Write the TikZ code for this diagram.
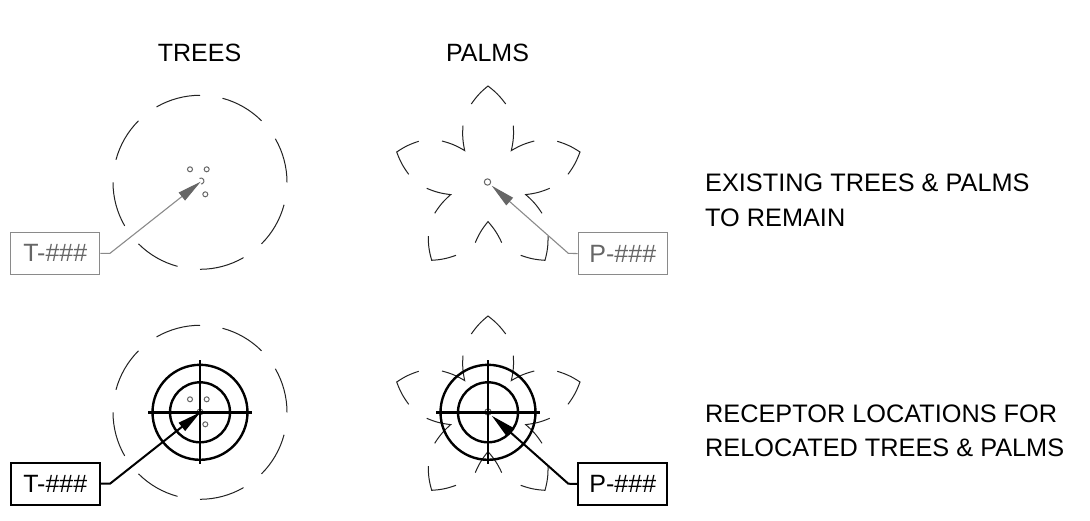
\documentclass[tikz,border=0pt]{standalone}
\usepackage{fontspec}
\setmainfont{Liberation Sans}
\usetikzlibrary{arrows.meta}
\definecolor{greytext}{HTML}{666666}
\definecolor{greybox}{HTML}{8A8A8A}
\definecolor{plantline}{HTML}{222222}
\tikzset{
  x=1pt,y=-1pt,
  label text/.style={font=\fontsize{25.3}{30}\selectfont,inner sep=0pt,anchor=base west,text=black},
  head text/.style={font=\fontsize{25}{30}\selectfont,inner sep=0pt,anchor=base,text=black},
  plant/.style={line width=1pt,draw=plantline,line join=miter},
  curl/.style={bend left=8},
  tag old/.style={draw=greybox,line width=1.2pt,minimum width=89pt,minimum height=42pt,inner sep=0pt,text=greytext,font=\fontsize{25}{30}\selectfont},
  tag new/.style={draw=black,line width=2pt,minimum width=89pt,minimum height=42pt,inner sep=0pt,text=black,font=\fontsize{25}{30}\selectfont},
  leader old/.style={draw=greybox,line width=1.1pt,-{Triangle[length=24pt,width=10pt,color=greytext]}},
  leader new/.style={draw=black,line width=2pt,-{Triangle[length=24pt,width=10pt,color=black]}},
  receptor/.style={draw=black,line width=2.4pt},
  hub/.style={draw=#1,line width=1pt},
  seed/.style={draw=#1,line width=1pt},
}
\newcommand{\canopy}[2]{%
  \foreach \a in {90,135,...,405}{
    \draw[plant] (#1,#2) ++(-\a:87) arc[start angle=-\a,delta angle=-30,radius=87];
  }%
}
\newcommand{\seeds}[3]{%
  \draw[seed=#3] (#1-10,#2-13) circle[radius=2.5];
  \draw[seed=#3] (#1+6.7,#2-13) circle[radius=2.5];
  \draw[seed=#3] (#1+5.3,#2+12) circle[radius=2.5];
}
\newcommand{\curlpart}[3]{\draw[plant] (#1) to[curl] (#2) to[curl] (#3);}
\newcommand{\frond}[2]{%
  \begin{scope}[shift={(#1,#2)}]
    \curlpart{-16.7,-78.3}{0,-96.3}{17.7,-78.3}
    \curlpart{-46,-41.3}{-23.3,-31.7}{-25,-56.7}
    \curlpart{25.3,-56.7}{23.3,-31.7}{46.3,-41.3}
    \curlpart{69.3,-41}{92,-30.3}{80,-8}
    \curlpart{-79.3,-8}{-91.3,-30.3}{-69.3,-41}
    \curlpart{61.7,6}{37.7,12.3}{54,31}
    \curlpart{-53.3,31}{-37.3,12.3}{-61.3,6}
    \curlpart{60,53.7}{57,78}{32.7,73}
    \curlpart{-32,73}{-56.3,78}{-59.7,53.7}
    \curlpart{-12.7,60.3}{0,39.3}{13.7,60.3}
  \end{scope}%
}
\newcommand{\target}[2]{%
  \draw[receptor] (#1,#2) circle[radius=47.5];
  \draw[receptor] (#1,#2) circle[radius=30];
  \draw[receptor] (#1-52,#2) -- (#1+52,#2);
  \draw[receptor] (#1,#2-52) -- (#1,#2+52);
}
\begin{document}
\begin{tikzpicture}
\useasboundingbox (0,0) rectangle (1090,520);
\fill[white] (0,0) rectangle (1090,520);

\node[head text] (treesHead) at (199.5,61) {TREES};
\node[head text] (palmsHead) at (487.5,61) {PALMS};
\node[label text] (existA) at (705,191) {EXISTING TREES \& PALMS};
\node[label text] (existB) at (705,226) {TO REMAIN};
\node[label text] (recepA) at (705,422) {RECEPTOR LOCATIONS FOR};
\node[label text] (recepB) at (705,456) {RELOCATED TREES \& PALMS};

% top row
\canopy{200}{182.3}
\seeds{200}{182.3}{greytext}
\frond{488}{182.3}
\draw[hub=greytext] (201,181) ++(-120:3) arc[start angle=-120,delta angle=210,radius=3];
\draw[hub=greytext] (487.5,182) circle[radius=3.2];
\coordinate (tipTreeOld) at (200.7,181.7);
\coordinate (tipPalmOld) at (491.7,185.7);
\coordinate (elbowTreeOld) at (110,253.3);
\coordinate (elbowPalmOld) at (568.3,253.3);
\node[tag old] (tagTreeOld) at (55.3,253.3) {T-\#\#\#};
\node[tag old] (tagPalmOld) at (622.8,253.6) {P-\#\#\#};
\draw[leader old] (tagTreeOld.east) -- (elbowTreeOld) -- (tipTreeOld);
\draw[leader old] (tagPalmOld.west) -- (elbowPalmOld) -- (tipPalmOld);

% bottom row
\canopy{200}{412.3}
\seeds{200}{412.3}{greytext}
\frond{488}{412.3}
\draw[hub=greytext] (200,412) circle[radius=3];
\draw[hub=greytext] (488,412) circle[radius=3.2];
\target{200}{412.3}
\target{488}{412.3}
\coordinate (tipTreeNew) at (200.7,412);
\coordinate (tipPalmNew) at (491.7,415.7);
\coordinate (elbowTreeNew) at (110,483.7);
\coordinate (elbowPalmNew) at (568.3,483.7);
\node[tag new] (tagTreeNew) at (55.3,483.7) {T-\#\#\#};
\node[tag new] (tagPalmNew) at (622.8,484) {P-\#\#\#};
\draw[leader new] (tagTreeNew.east) -- (elbowTreeNew) -- (tipTreeNew);
\draw[leader new] (tagPalmNew.west) -- (elbowPalmNew) -- (tipPalmNew);
\end{tikzpicture}
\end{document}
